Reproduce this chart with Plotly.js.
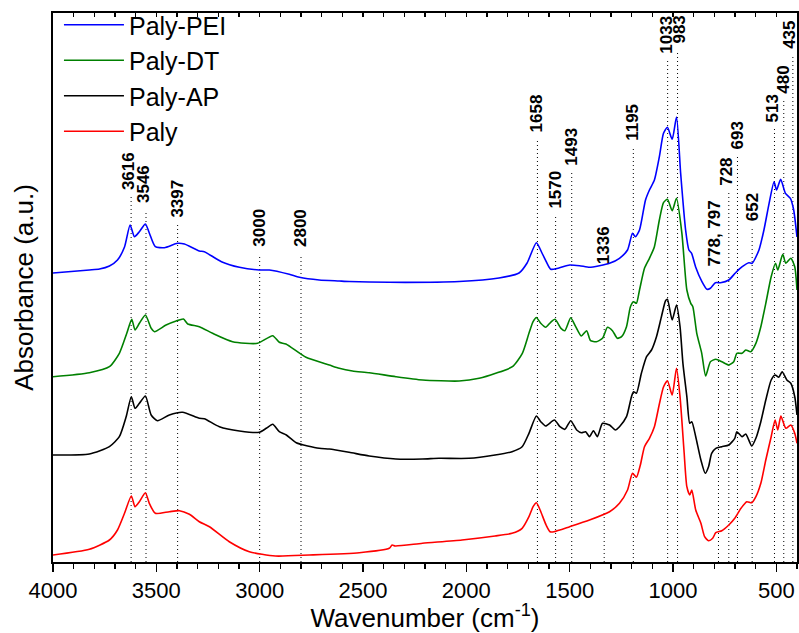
<!DOCTYPE html>
<html>
<head>
<meta charset="utf-8">
<script src="https://cdn.plot.ly/plotly-3.0.1.min.js"></script>
<style>html,body{margin:0;padding:0;background:#fff}#chart{width:799px;height:633px}</style>
</head>
<body>
<div id="chart"></div>
<script>
// Series names and colours
var seriesNames = ["Paly-PEI", "Paly-DT", "Paly-AP", "Paly"];
var seriesColors = ["#0000ff", "#008000", "#000000", "#ff0000"];

// Paly-PEI (offset spectrum)
var wnPEI = [4000,3824,3775,3727,3688,3654,3627,3606,3582,3553,3534,3505,3461,3398,3364,3292,3268,3185,3098,3002,2953,2857,2808,2712,2615,2567,2373,2035,1842,1745,1706,1661,1634,1600,1592,1552,1500,1452,1404,1356,1307,1259,1220,1196,1182,1162,1133,1114,1090,1066,1046,1027,1004,983,963,939,923,910,891,860,836,819,795,770,730,697,665,633,617,584,560,535,511,499,479,456,432,416,400];
var absPEI = [2.89,2.92,2.93,2.96,3.02,3.15,3.37,3.253,3.303,3.38,3.29,3.153,3.143,3.187,3.18,3.11,3.103,3.003,2.947,2.92,2.92,2.877,2.847,2.82,2.81,2.805,2.797,2.805,2.84,2.89,2.99,3.193,3.09,2.95,2.927,2.94,2.97,2.963,2.947,2.963,2.987,3.037,3.12,3.287,3.253,3.32,3.62,3.72,3.82,4.053,4.287,4.347,4.227,4.45,3.887,3.32,3.12,3.087,2.953,2.803,2.727,2.737,2.793,2.793,2.82,2.893,2.953,2.993,2.987,3.12,3.32,3.587,3.803,3.72,3.827,3.687,3.637,3.52,3.25];

// Paly-DT
var wnDT = [4000,3824,3727,3679,3643,3619,3603,3582,3553,3525,3509,3453,3404,3369,3348,3292,3228,3131,3010,2937,2905,2873,2776,2663,2615,2551,2470,2341,2212,2035,1938,1858,1777,1729,1697,1677,1661,1640,1616,1592,1571,1542,1523,1495,1471,1444,1418,1399,1371,1341,1317,1293,1269,1249,1225,1206,1191,1177,1162,1138,1114,1090,1066,1046,1027,1004,983,957,933,914,904,885,861,842,819,793,764,730,706,691,666,648,624,599,575,551,525,504,493,469,454,430,411,400];
var absDT = [1.853,1.893,1.953,2.087,2.287,2.427,2.32,2.387,2.47,2.337,2.303,2.37,2.41,2.43,2.38,2.353,2.287,2.203,2.187,2.263,2.197,2.18,2.047,1.97,1.937,1.91,1.893,1.853,1.82,1.81,1.837,1.887,1.953,2.087,2.287,2.403,2.445,2.387,2.347,2.397,2.427,2.337,2.313,2.443,2.353,2.26,2.313,2.213,2.203,2.237,2.347,2.313,2.237,2.253,2.353,2.553,2.603,2.587,2.72,2.937,3.037,3.153,3.42,3.593,3.627,3.513,3.637,3.287,2.72,2.587,2.553,2.287,2.087,1.86,2.003,2.027,2.003,1.97,2.003,2.087,2.087,2.12,2.103,2.187,2.353,2.587,2.853,2.987,2.92,3.077,2.987,3.037,2.953,2.72];

// Paly-AP
var wnAP = [4000,3824,3727,3679,3646,3621,3603,3582,3553,3525,3495,3437,3373,3292,3268,3195,3098,3002,2968,2937,2905,2871,2823,2712,2663,2567,2470,2341,2212,2132,1987,1861,1779,1730,1697,1661,1640,1616,1574,1547,1523,1495,1466,1443,1423,1404,1385,1366,1341,1307,1279,1259,1225,1201,1191,1177,1153,1128,1104,1080,1056,1036,1027,1004,983,966,952,933,919,909,890,865,844,828,813,793,764,730,701,691,666,648,619,599,575,551,525,506,488,472,449,430,411,400];
var absAP = [1.07,1.08,1.153,1.253,1.453,1.653,1.537,1.587,1.66,1.47,1.413,1.47,1.497,1.437,1.433,1.353,1.31,1.297,1.337,1.377,1.303,1.27,1.193,1.137,1.13,1.097,1.06,1.03,1.03,1.037,1.037,1.07,1.103,1.153,1.287,1.46,1.403,1.36,1.42,1.353,1.327,1.413,1.32,1.293,1.303,1.253,1.313,1.253,1.387,1.37,1.32,1.353,1.453,1.653,1.703,1.687,1.887,2.053,2.12,2.253,2.453,2.613,2.627,2.42,2.57,2.353,1.987,1.653,1.387,1.403,1.253,1.02,0.887,0.953,1.087,1.137,1.153,1.17,1.237,1.303,1.253,1.28,1.16,1.237,1.403,1.62,1.82,1.87,1.847,1.903,1.82,1.787,1.653,1.47];

// Paly
var wnPaly = [4000,3824,3727,3688,3654,3621,3603,3582,3553,3534,3505,3437,3388,3340,3292,3243,3147,3050,2924,2760,2518,2373,2359,2344,2212,2021,1861,1779,1730,1697,1677,1661,1643,1614,1595,1576,1500,1404,1307,1259,1220,1196,1177,1158,1138,1114,1090,1066,1046,1027,1004,983,966,947,933,919,909,890,865,847,828,808,793,764,730,701,671,643,619,599,575,551,525,506,493,478,454,430,411,400];
var absPaly = [0.07,0.127,0.22,0.32,0.487,0.66,0.553,0.603,0.693,0.587,0.487,0.503,0.513,0.477,0.403,0.353,0.203,0.103,0.06,0.07,0.093,0.137,0.17,0.16,0.187,0.22,0.26,0.287,0.337,0.453,0.553,0.593,0.52,0.37,0.303,0.303,0.353,0.42,0.503,0.587,0.72,0.887,0.847,0.97,1.153,1.237,1.353,1.58,1.75,1.813,1.67,1.937,1.653,1.12,0.753,0.67,0.72,0.52,0.387,0.253,0.213,0.237,0.293,0.313,0.37,0.437,0.537,0.603,0.593,0.653,0.787,1.02,1.253,1.42,1.32,1.46,1.337,1.37,1.287,1.187];

// Peak markers: label text, wavenumber of the dotted line, height (a.u.) of the label foot
var peakLabels = ["3616","3546","3397","3000","2800","1658","1570","1493","1336","1195","1033","983","778, 797","728","693","652","513","480","435"];
var peakPos    = [3622, 3550, 3397, 3000, 2800, 1656, 1568, 1490, 1333, 1192, 1026, 978, 780, 730, 688, 617, 509, 464, 420];
var peakLabelY = [3.71, 3.58, 3.43, 3.14, 3.14, 4.29, 3.52, 3.95, 2.97, 4.20, 5.07, 5.17, 2.95, 3.75, 4.12, 3.40, 4.39, 4.67, 5.12];
var peakShift  = [-3, -3, -1, -1, -1, -1, -1, -1, -1, -1, -2, 1, -4, -3, 0, 0, -2, -1, -4];

// Axis ticks
var xTickVals = [4000,3500,3000,2500,2000,1500,1000,500];
var xTickText = ["4000","3500","3000","2500","2000","1500","1000","500"];

var xs = [wnPEI, wnDT, wnAP, wnPaly];
var ys = [absPEI, absDT, absAP, absPaly];

var FONT = "Arial, 'Liberation Sans', sans-serif";

var traces = seriesNames.map(function (n, i) {
  return {
    x: xs[i], y: ys[i], name: n, type: "scatter", mode: "lines",
    line: {color: seriesColors[i], width: 1.6, shape: "spline", smoothing: 0.6},
    hoverinfo: "skip"
  };
});

var shapes = peakPos.map(function (p, i) {
  return {
    type: "line", xref: "x", yref: "y", x0: p, x1: p, y0: 0, y1: peakLabelY[i] - 0.06,
    line: {color: "#000", width: 1, dash: "1px,3px"}, layer: "below"
  };
});

var annotations = peakLabels.map(function (t, i) {
  return {
    text: "<b>" + t + "</b>", x: peakPos[i], y: peakLabelY[i], xref: "x", yref: "y",
    xanchor: "center", yanchor: "bottom", textangle: -90, showarrow: false,
    xshift: peakShift[i], borderpad: 0,
    font: {family: FONT, size: 17, color: "#000"}
  };
});

var layout = {
  width: 799, height: 633,
  margin: {l: 53, r: 2, t: 13, b: 71},
  paper_bgcolor: "#fff", plot_bgcolor: "#fff",
  font: {family: FONT, color: "#000"},
  showlegend: true,
  legend: {
    x: 0.008, y: 1.02, xanchor: "left", yanchor: "top",
    font: {family: FONT, size: 25, color: "#000"},
    bgcolor: "rgba(0,0,0,0)", borderwidth: 0, itemwidth: 60,
    tracegroupgap: 0
  },
  xaxis: {
    range: [4000, 400], autorange: false,
    tickmode: "array", tickvals: xTickVals, ticktext: xTickText,
    ticks: "outside", ticklen: 8, tickwidth: 1.5, tickcolor: "#000",
    minor: {dtick: 100, ticks: "outside", ticklen: 5, tickwidth: 1.5, tickcolor: "#000"},
    showline: true, linewidth: 2, linecolor: "#000", mirror: true,
    showgrid: false, zeroline: false,
    tickfont: {family: FONT, size: 22, color: "#000"},
    title: {text: "Wavenumber (cm<sup>-1</sup>)", font: {family: FONT, size: 26, color: "#000"}, standoff: 11}
  },
  xaxis2: {
    overlaying: "x", side: "top", range: [4000, 400], autorange: false,
    tickmode: "linear", tick0: 400, dtick: 100,
    ticks: "inside", ticklen: 4, tickwidth: 1.2, tickcolor: "#000",
    showticklabels: false, showgrid: false, zeroline: false, showline: false
  },
  yaxis: {
    range: [0, 5.49], autorange: false,
    showticklabels: false, ticks: "", showgrid: false, zeroline: false,
    showline: true, linewidth: 2, linecolor: "#000", mirror: true,
    title: {text: "Absorbance (a.u.)", font: {family: FONT, size: 26, color: "#000"}, standoff: 10}
  },
  shapes: shapes,
  annotations: annotations
};

// invisible trace to activate the top tick axis
traces.push({x: [4000], y: [0], xaxis: "x2", yaxis: "y", mode: "none", showlegend: false, hoverinfo: "skip"});

Plotly.newPlot("chart", traces, layout, {staticPlot: true, displayModeBar: false});
</script>
</body>
</html>
